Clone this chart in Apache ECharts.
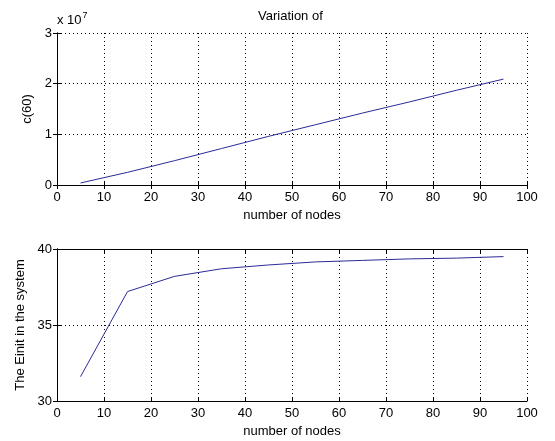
<!DOCTYPE html>
<html>
<head>
<meta charset="utf-8">
<script src="https://cdn.jsdelivr.net/npm/echarts@6/dist/echarts.min.js"></script>
<style>html,body{margin:0;padding:0;background:#fff}#c{width:555px;height:441px}</style>
</head>
<body>
<div id="c"></div>
<script>
var nodes = [5, 15, 25, 35, 45, 55, 65, 75, 85, 95];
var c60 = [0.04e7, 0.25e7, 0.48e7, 0.72e7, 0.96e7, 1.19e7, 1.42e7, 1.64e7, 1.87e7, 2.09e7];
var einit = [31.6, 37.2, 38.2, 38.7, 38.95, 39.15, 39.25, 39.35, 39.4, 39.5];
var xTicks = [0, 10, 20, 30, 40, 50, 60, 70, 80, 90, 100];
var titleText = 'Variation of';
var xName = 'number of nodes';
var y1Name = 'c(60)';
var y2Name = 'The Einit in the system';

var FONT = 'Liberation Sans, Arial, sans-serif';
var LINE = '#2b2b95';
var dotted = {show: true, lineStyle: {color: '#000', type: [1, 3], width: 1}};

function xMain(gi) {
  return {
    type: 'value', gridIndex: gi, min: 0, max: 100, interval: 10, position: 'bottom',
    name: xName, nameLocation: 'middle', nameGap: 24,
    nameTextStyle: {fontFamily: FONT, fontSize: 13, color: '#000'},
    axisLine: {show: true, lineStyle: {color: '#000'}},
    axisTick: {show: true, inside: true, length: 4, lineStyle: {color: '#000'}},
    axisLabel: {fontFamily: FONT, fontSize: 13, color: '#000', margin: 6},
    splitLine: dotted
  };
}
function xTop(gi) {
  return {
    type: 'value', gridIndex: gi, min: 0, max: 100, interval: 10, position: 'top',
    axisLine: {show: true, lineStyle: {color: '#000'}},
    axisTick: {show: true, inside: true, length: 4, lineStyle: {color: '#000'}},
    axisLabel: {show: false}, splitLine: {show: false}
  };
}
function yMain(gi, min, max, interval, name, gap, fmt) {
  return {
    type: 'value', gridIndex: gi, min: min, max: max, interval: interval, position: 'left',
    name: name, nameLocation: 'middle', nameGap: gap,
    nameTextStyle: {fontFamily: FONT, fontSize: 13, color: '#000'},
    axisLine: {show: true, lineStyle: {color: '#000'}},
    axisTick: {show: true, inside: true, length: 4, lineStyle: {color: '#000'}},
    axisLabel: {fontFamily: FONT, fontSize: 13, color: '#000', margin: 5, formatter: fmt},
    splitLine: dotted
  };
}
function yRight(gi, min, max, interval) {
  return {
    type: 'value', gridIndex: gi, min: min, max: max, interval: interval, position: 'right',
    axisLine: {show: true, lineStyle: {color: '#000'}},
    axisTick: {show: true, inside: true, length: 4, lineStyle: {color: '#000'}},
    axisLabel: {show: false}, splitLine: {show: false}
  };
}

var chart = echarts.init(document.getElementById('c'), null, {renderer: 'canvas'});
chart.setOption({
  backgroundColor: '#fff',
  animation: false,
  title: {text: titleText, left: 253, top: 5, textStyle: {fontFamily: FONT, fontSize: 13, fontWeight: 'normal', color: '#000'}},
  grid: [
    {left: 57, top: 33, width: 470, height: 152},
    {left: 57, top: 249, width: 470, height: 152}
  ],
  xAxis: [xMain(0), xTop(0), xMain(1), xTop(1)],
  yAxis: [
    yMain(0, 0, 3e7, 1e7, y1Name, 22, function (v) { return String(Math.round(v / 1e7)); }),
    yRight(0, 0, 3e7, 1e7),
    yMain(1, 30, 40, 5, y2Name, 30, function (v) { return String(v); }),
    yRight(1, 30, 40, 5)
  ],
  graphic: [{
    type: 'text', left: 57, top: 11,
    style: {
      text: '{a|x 10}{b|7}',
      rich: {
        a: {fontFamily: FONT, fontSize: 13, fill: '#000', verticalAlign: 'bottom', lineHeight: 16},
        b: {fontFamily: FONT, fontSize: 9, fill: '#000', verticalAlign: 'top', lineHeight: 16, padding: [0, 0, 8, 1]}
      }
    }
  }],
  series: [
    {type: 'line', xAxisIndex: 0, yAxisIndex: 0, data: nodes.map(function (x, i) { return [x, c60[i]]; }),
     showSymbol: false, lineStyle: {color: LINE, width: 1}},
    {type: 'line', xAxisIndex: 2, yAxisIndex: 2, data: nodes.map(function (x, i) { return [x, einit[i]]; }),
     showSymbol: false, lineStyle: {color: LINE, width: 1}}
  ]
});
</script>
</body>
</html>
